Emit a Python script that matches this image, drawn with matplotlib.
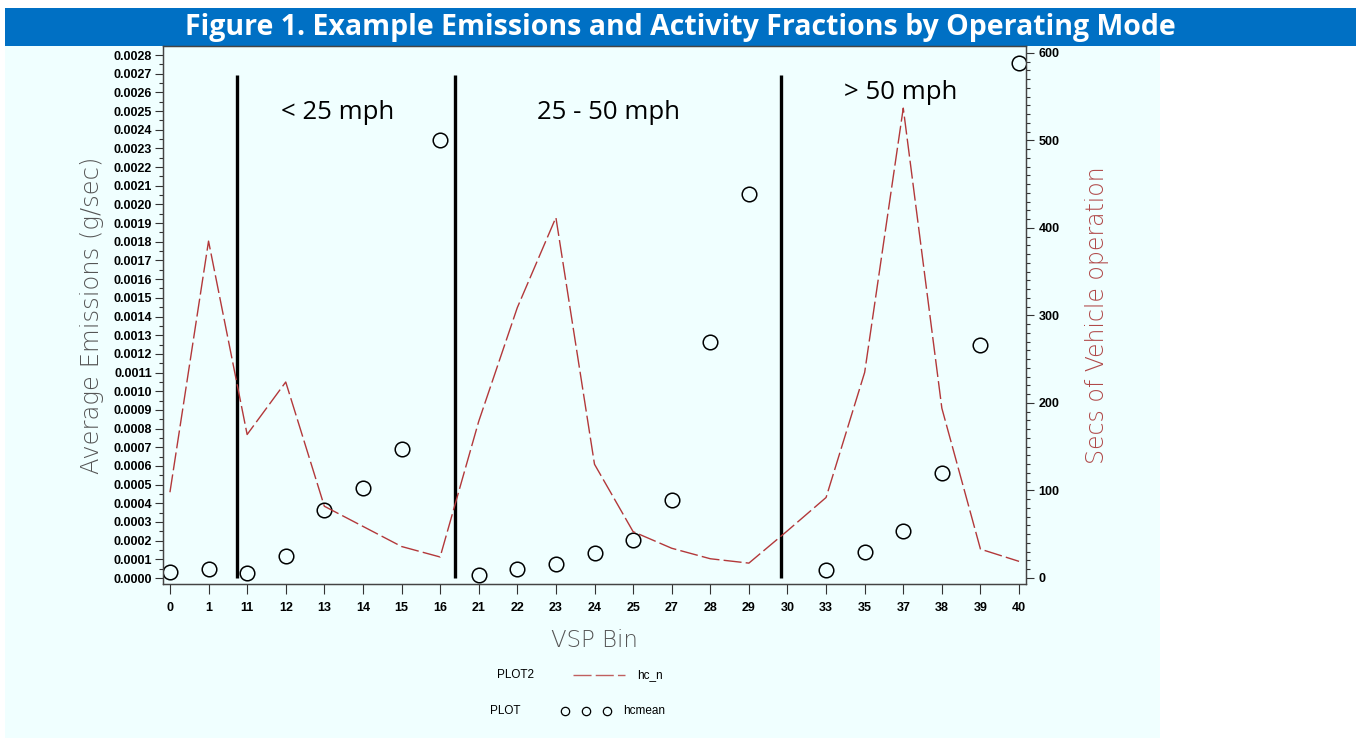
import numpy as np
import matplotlib
matplotlib.use("Agg")
import matplotlib.pyplot as plt
from matplotlib.patches import Rectangle
from matplotlib.lines import Line2D
from matplotlib.ticker import MultipleLocator, FormatStrFormatter
from matplotlib.font_manager import FontProperties

# ---------------- data ----------------
vsp_bins = ["0", "1", "11", "12", "13", "14", "15", "16", "21", "22", "23", "24",
            "25", "27", "28", "29", "30", "33", "35", "37", "38", "39", "40"]
hc_n = [98, 385, 164, 224, 82, 59, 36, 24, 179, 309, 412, 130,
        53, 34, 22, 17, 54, 92, 235, 537, 194, 33, 19]
hcmean = [0.0000337, 0.0000465, 0.0000250, 0.000118, 0.000364, 0.000482, 0.000692, 0.002345,
          0.0000160, 0.0000476, 0.0000750, 0.000132, 0.000206, 0.000418, 0.001264, 0.002054,
          np.nan, 0.0000422, 0.000140, 0.000253, 0.000560, 0.001247, 0.002757]
region_labels = ["< 25 mph", "25 - 50 mph", "> 50 mph"]

title = "Figure 1. Example Emissions and Activity Fractions by Operating Mode"

# ---------------- layout ----------------
W, H = 1356, 738
fig = plt.figure(figsize=(W / 100, H / 100), dpi=100)
fig.patch.set_facecolor("white")

def fx(px):
    return px / W

def fy(py):
    return 1 - py / H

# cyan panel background
fig.patches.append(Rectangle((fx(5), fy(738)), fx(1160) - fx(5), fy(46) - fy(738),
                             transform=fig.transFigure, facecolor="#F0FFFF",
                             edgecolor="none", zorder=-10))
# blue title bar
fig.patches.append(Rectangle((fx(5), fy(46)), 1 - fx(5), fy(8) - fy(46),
                             transform=fig.transFigure, facecolor="#0070C4",
                             edgecolor="none", zorder=-10))
fig.text(fx(680), fy(28), title, color="white", fontsize=20.5, fontweight="bold",
         family="Open Sans", ha="center", va="center")

ax = fig.add_axes([fx(163), fy(584), fx(1026) - fx(163), fy(46) - fy(584)])
ax.set_facecolor("none")
ax2 = ax.twinx()
ax2.set_facecolor("none")

x = np.arange(len(vsp_bins))

ax2.plot(x, hc_n, color="#B3383A", lw=1.0, dashes=(13, 3), zorder=2)
ax.plot(x, hcmean, linestyle="none", marker="o", markersize=10.5,
        markerfacecolor="none", markeredgecolor="black", markeredgewidth=1.1,
        zorder=3)

ax.set_xlim(-0.18, len(vsp_bins) - 1 + 0.18)
ax.set_ylim(-0.0000321, 0.0028482)
ax2.set_ylim(-6.86, 608)

# region separators and labels
sep_pos = [1.74, 7.38, 15.83]
for s in sep_pos:
    ax.plot([s, s], [0, 0.002693], color="black", lw=2.4, zorder=4,
            solid_capstyle="butt")
label_pos = [(4.35, 0.00249), (11.37, 0.00249), (18.94, 0.00260)]
for lab, (lx, ly) in zip(region_labels, label_pos):
    ax.text(lx, ly, lab, fontsize=18.5, family="Open Sans", ha="center",
            va="center", color="black")

# ticks
tick_fp = FontProperties(family="Liberation Sans", size=9, weight="bold")
ax.set_xticks(x)
ax.set_xticklabels(vsp_bins)
ax.yaxis.set_major_locator(MultipleLocator(0.0001))
ax.yaxis.set_minor_locator(MultipleLocator(0.00005))
ax.yaxis.set_major_formatter(FormatStrFormatter("%.4f"))
ax2.yaxis.set_major_locator(MultipleLocator(100))
ax2.yaxis.set_minor_locator(MultipleLocator(10))
fig.canvas.draw()
for t in ax.get_xticklabels() + ax.get_yticklabels() + ax2.get_yticklabels():
    t.set_fontproperties(tick_fp)

ax.tick_params(axis="x", direction="out", length=7, width=0.8, pad=6, colors="#333333",
               labelcolor="black")
ax.tick_params(axis="y", which="major", direction="out", length=6, width=0.8, pad=2,
               colors="#333333", labelcolor="black")
ax.tick_params(axis="y", which="minor", direction="out", length=3, width=0.8,
               colors="#333333")
ax2.tick_params(axis="y", which="major", direction="out", length=6, width=0.8, pad=3,
                colors="#333333", labelcolor="black")
ax2.tick_params(axis="y", which="minor", direction="out", length=3, width=0.8,
                colors="#333333")
for a in (ax, ax2):
    for sp in a.spines.values():
        sp.set_color("#444444")
        sp.set_linewidth(0.9)

# axis labels
ax.set_ylabel("Average Emissions (g/sec)", fontsize=17.5, family="DejaVu Sans",
              fontweight="light", color="#555555", labelpad=7)
ax2.set_ylabel("Secs of Vehicle operation", fontsize=17, family="DejaVu Sans",
               fontweight="light", color="#B04848", labelpad=18)
ax.set_xlabel("VSP Bin", fontsize=16.5, family="DejaVu Sans", fontweight="light",
              color="#555555", labelpad=11)

# legend (SAS style)
leg_font = dict(family="Liberation Sans", fontsize=8.5, color="black", va="center")
fig.text(fx(497), fy(675), "PLOT2", ha="left", **leg_font)
fig.lines.append(Line2D([fx(573), fx(625)], [fy(675), fy(675)], transform=fig.transFigure,
                        color="#C06060", lw=1.0, dashes=(13, 3)))
fig.text(fx(637), fy(675), "hc_n", ha="left", **leg_font)
fig.text(fx(490), fy(711), "PLOT", ha="left", **leg_font)
fig.lines.append(Line2D([fx(565), fx(586), fx(607)], [fy(711)] * 3,
                        transform=fig.transFigure, linestyle="none", marker="o",
                        markersize=6, markerfacecolor="none", markeredgecolor="black",
                        markeredgewidth=0.9))
fig.text(fx(623), fy(711), "hcmean", ha="left", **leg_font)

fig.savefig("out.png", dpi=100)
